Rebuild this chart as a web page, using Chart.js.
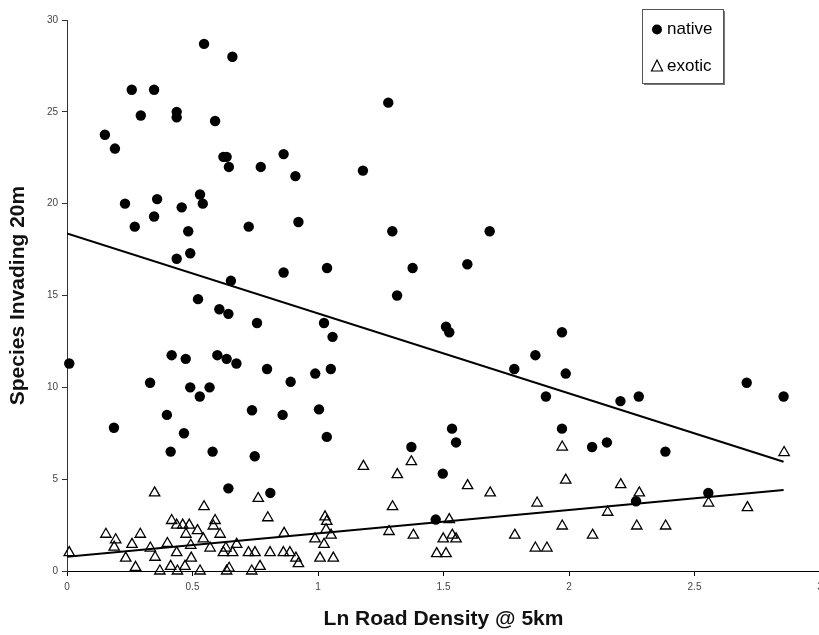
<!DOCTYPE html>
<html>
<head>
<meta charset="utf-8">
<title>Species Invading 20m</title>
<script src="https://cdn.jsdelivr.net/npm/chart.js@4.4.0/dist/chart.umd.min.js"></script>
<style>
  html, body { margin: 0; padding: 0; background: #fff; overflow: hidden; }
  #wrap { width: 830px; height: 635px; }
</style>
</head>
<body>
<div id="wrap"><canvas id="chart" width="830" height="635"></canvas></div>
<script>
/* Values. */
const nativeX = [0.009, 0.151, 0.187, 0.191, 0.231, 0.258, 0.270, 0.294, 0.331, 0.347,
  0.347, 0.359, 0.398, 0.413, 0.417, 0.437, 0.437, 0.437, 0.457, 0.466,
  0.473, 0.483, 0.491, 0.491, 0.522, 0.529, 0.530, 0.541, 0.546, 0.568,
  0.580, 0.590, 0.599, 0.607, 0.623, 0.636, 0.636, 0.643, 0.643, 0.645,
  0.653, 0.659, 0.675, 0.724, 0.737, 0.748, 0.757, 0.772, 0.797, 0.810,
  0.859, 0.863, 0.863, 0.891, 0.910, 0.922, 0.989, 1.004, 1.024, 1.035,
  1.036, 1.051, 1.058, 1.179, 1.280, 1.296, 1.315, 1.372, 1.377, 1.469,
  1.497, 1.510, 1.523, 1.534, 1.550, 1.595, 1.684, 1.782, 1.866, 1.908,
  1.972, 1.972, 1.987, 2.092, 2.151, 2.205, 2.267, 2.278, 2.384, 2.555,
  2.708, 2.855];
const nativeY = [11.3, 23.75, 7.8, 23.0, 20.0, 26.2, 18.75, 24.8, 10.25, 26.2,
  19.3, 20.25, 8.5, 6.5, 11.75, 25.0, 24.7, 17.0, 19.8, 7.5,
  11.55, 18.5, 17.3, 10.0, 14.8, 9.5, 20.5, 20.0, 28.7, 10.0,
  6.5, 24.5, 11.75, 14.25, 22.55, 22.55, 11.55, 14.0, 4.5, 22.0,
  15.8, 28.0, 11.3, 18.75, 8.75, 6.25, 13.5, 22.0, 11.0, 4.25,
  8.5, 22.7, 16.25, 10.3, 21.5, 19.0, 10.75, 8.8, 13.5, 7.3,
  16.5, 11.0, 12.75, 21.8, 25.5, 18.5, 15.0, 6.75, 16.5, 2.8,
  5.3, 13.3, 13.0, 7.75, 7.0, 16.7, 18.5, 11.0, 11.75, 9.5,
  13.0, 7.75, 10.75, 6.75, 7.0, 9.25, 3.8, 9.5, 6.5, 4.25,
  10.25, 9.5];

const exoticX = [0.009, 0.155, 0.188, 0.194, 0.234, 0.259, 0.273, 0.292, 0.332, 0.349,
  0.351, 0.370, 0.400, 0.413, 0.417, 0.437, 0.437, 0.440, 0.461, 0.470,
  0.474, 0.487, 0.493, 0.495, 0.520, 0.530, 0.543, 0.546, 0.570, 0.583,
  0.590, 0.610, 0.623, 0.633, 0.636, 0.646, 0.660, 0.676, 0.723, 0.736,
  0.749, 0.762, 0.769, 0.800, 0.809, 0.862, 0.865, 0.888, 0.912, 0.922,
  0.988, 1.008, 1.024, 1.028, 1.035, 1.032, 1.052, 1.061, 1.181, 1.283,
  1.297, 1.316, 1.372, 1.380, 1.473, 1.499, 1.510, 1.523, 1.535, 1.550,
  1.596, 1.686, 1.784, 1.866, 1.873, 1.912, 1.973, 1.973, 1.987, 2.094,
  2.154, 2.206, 2.270, 2.280, 2.385, 2.556, 2.711, 2.857];
const exoticY = [1.0, 2.0, 1.3, 1.7, 0.7, 1.45, 0.2, 2.0, 1.25, 4.25,
  0.75, 0.0, 1.5, 0.25, 2.75, 2.5, 1.0, 0.0, 2.5, 0.25,
  2.0, 2.5, 1.4, 0.7, 2.2, 0.0, 1.75, 3.5, 1.25, 2.45,
  2.75, 2.0, 1.0, 1.25, 0.0, 0.15, 1.0, 1.45, 1.0, 0.0,
  1.0, 3.95, 0.25, 2.9, 1.0, 1.0, 2.05, 1.0, 0.7, 0.4,
  1.75, 0.7, 1.45, 2.95, 2.7, 2.25, 1.95, 0.7, 5.7, 2.15,
  3.5, 5.25, 5.95, 1.95, 0.95, 1.75, 0.95, 2.8, 1.95, 1.75,
  4.65, 4.25, 1.95, 1.25, 3.7, 1.25, 6.75, 2.45, 4.95, 1.95,
  3.2, 4.7, 2.45, 4.25, 2.45, 3.7, 3.45, 6.45];

/* Fitted lines, end points. */
const trendX = [0, 2.855];
const nativeTrendY = [18.38, 5.95];
const exoticTrendY = [0.78, 4.41];

const xTicks = [0, 0.5, 1, 1.5, 2, 2.5, 3];

function toPoints(xs, ys) {
  return xs.map((x, i) => ({ x: x, y: ys[i] }));
}

/* Legend box in the top right of the plot. */
const boxLegend = {
  id: "boxLegend",
  afterDraw(chart) {
    const ctx = chart.ctx;
    const left = 642, top = 9, w = 81, h = 74;
    ctx.save();
    ctx.fillStyle = "#777";
    ctx.fillRect(left + 2, top + 2, w, h);
    ctx.fillStyle = "#fff";
    ctx.fillRect(left, top, w, h);
    ctx.strokeStyle = "#555";
    ctx.lineWidth = 1;
    ctx.strokeRect(left + 0.5, top + 0.5, w, h);

    const mx = 657;
    ctx.fillStyle = "#000";
    ctx.beginPath();
    ctx.arc(mx, 29.5, 5, 0, Math.PI * 2);
    ctx.fill();

    ctx.beginPath();
    ctx.moveTo(mx, 60);
    ctx.lineTo(mx + 5.5, 71);
    ctx.lineTo(mx - 5.5, 71);
    ctx.closePath();
    ctx.strokeStyle = "#000";
    ctx.lineWidth = 1.2;
    ctx.stroke();

    ctx.font = "17px 'Liberation Sans', Arial, sans-serif";
    ctx.textBaseline = "middle";
    ctx.fillStyle = "#000";
    ctx.fillText(chart.data.datasets[0].label, 667, 29.5);
    ctx.fillText(chart.data.datasets[1].label, 667, 66.5);
    ctx.restore();
  }
};

const tickFont = { family: "'Liberation Sans', Arial, sans-serif", size: 10 };
const titleFont = { family: "'Liberation Sans', Arial, sans-serif", size: 21, weight: "bold", lineHeight: 1.2 };

new Chart(document.querySelector("#chart"), {
  type: "scatter",
  data: {
    datasets: [
      {
        label: "native",
        data: toPoints(nativeX, nativeY),
        pointStyle: "circle",
        pointRadius: 5.2,
        backgroundColor: "#000",
        borderColor: "#000",
        borderWidth: 0,
        clip: false
      },
      {
        label: "exotic",
        data: toPoints(exoticX, exoticY),
        pointStyle: "triangle",
        pointRadius: 6,
        backgroundColor: "rgba(255,255,255,0)",
        borderColor: "#000",
        borderWidth: 1.3,
        clip: false
      },
      {
        label: "native fit",
        type: "line",
        data: toPoints(trendX, nativeTrendY),
        showLine: true,
        pointRadius: 0,
        borderColor: "#000",
        borderWidth: 2,
        fill: false
      },
      {
        label: "exotic fit",
        type: "line",
        data: toPoints(trendX, exoticTrendY),
        showLine: true,
        pointRadius: 0,
        borderColor: "#000",
        borderWidth: 2,
        fill: false
      }
    ]
  },
  options: {
    responsive: false,
    devicePixelRatio: 1,
    animation: false,
    layout: { padding: { top: 20, right: 10, left: 0, bottom: 0 } },
    plugins: {
      legend: { display: false },
      tooltip: { enabled: false }
    },
    scales: {
      x: {
        type: "linear",
        min: 0,
        max: 3,
        afterBuildTicks(scale) {
          scale.ticks = xTicks.map((v) => ({ value: v }));
        },
        afterFit(scale) { scale.height = 64; },
        grid: { drawOnChartArea: false, drawTicks: true, tickLength: 5, color: "#000" },
        border: { color: "#000", width: 1 },
        ticks: {
          font: tickFont,
          color: "#444",
          padding: 5,
          maxRotation: 0,
          callback: (value) => String(value)
        },
        title: {
          display: true,
          text: "Ln Road Density @ 5km",
          font: titleFont,
          color: "#111",
          padding: { top: 0, bottom: 3 }
        }
      },
      y: {
        min: 0,
        max: 30,
        ticks: { stepSize: 5, font: tickFont, color: "#444", padding: 4 },
        afterFit(scale) { scale.width = 67; },
        grid: { drawOnChartArea: false, drawTicks: true, tickLength: 5, color: "#333" },
        border: { color: "#333", width: 1 },
        title: {
          display: true,
          text: "Species Invading 20m",
          font: titleFont,
          color: "#111",
          padding: { top: 6, bottom: 0 }
        }
      }
    }
  },
  plugins: [boxLegend]
});
</script>
</body>
</html>
